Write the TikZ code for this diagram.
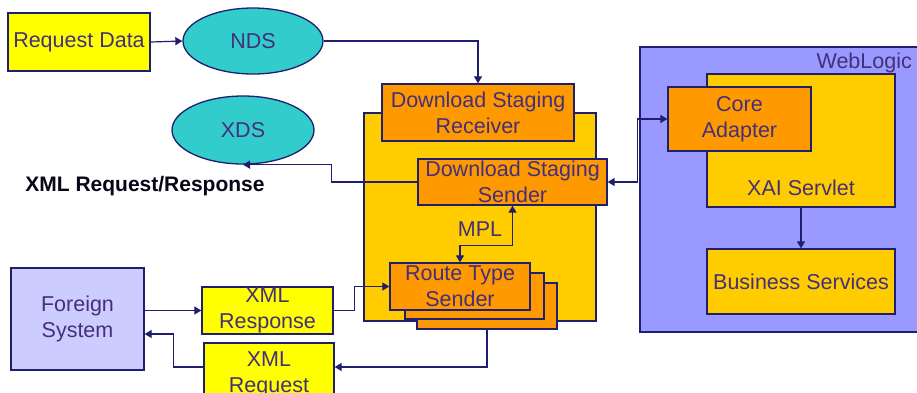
\documentclass[tikz,border=0pt]{standalone}
\usepackage{fontspec}
\setmainfont{Liberation Sans}
\usetikzlibrary{arrows.meta,shapes.geometric}
\definecolor{navy}{HTML}{1F1F6E}
\definecolor{txt}{HTML}{44307A}
\definecolor{yel}{HTML}{FFFF00}
\definecolor{gold}{HTML}{FFCC00}
\definecolor{orng}{HTML}{FF9900}
\definecolor{teal}{HTML}{33CCCC}
\definecolor{lav}{HTML}{CCCCFF}
\definecolor{blu}{HTML}{9999FF}
\tikzset{
  box/.style={draw=navy, line width=1.3pt, rectangle, inner sep=0pt, align=center, text=txt,
    font=\fontsize{21.5}{26}\selectfont},
  oval/.style={draw=navy, line width=1.3pt, ellipse, fill=teal, inner sep=0pt, text=txt,
    font=\fontsize{21.5}{26}\selectfont},
  conn/.style={draw=navy, line width=1.2pt, -{Triangle[length=7pt,width=8pt]}},
  conn2/.style={draw=navy, line width=1.2pt, {Triangle[length=7pt,width=8pt]}-{Triangle[length=7pt,width=8pt]}},
  lbl/.style={text=txt, font=\fontsize{21.5}{26}\selectfont, inner sep=0pt},
}
\begin{document}
\begin{tikzpicture}[x=1pt,y=-1pt]
\useasboundingbox (0,0) rectangle (917,392);
\clip (0,0) rectangle (917,392);
\fill[white] (0,0) rectangle (917,392);

% left side
\node[box, fill=yel, minimum width=142pt, minimum height=58pt] (req) at (79,42) {Request Data};
\node[oval, minimum width=140pt, minimum height=66pt] (nds) at (253,41) {NDS};
\node[oval, minimum width=142pt, minimum height=68pt] (xds) at (243,130) {XDS};
\node[text=black!80!navy, font=\fontsize{21}{24}\bfseries, inner sep=0pt] (xrr) at (145,186) {XML Request/Response};

% download staging container
\node[box, fill=gold, minimum width=232pt, minimum height=208pt] (dsc) at (480,217) {};
\node[box, fill=orng, minimum width=192pt, minimum height=57pt] (dsr) at (478,112.5) {Download Staging\\Receiver};
\node[box, fill=orng, minimum width=189pt, minimum height=46pt] (dss) at (512.5,182) {Download Staging\\Sender};
\node[lbl] (mpl) at (480,229) {MPL};
\node[box, fill=orng, minimum width=140pt, minimum height=46pt] (rts3) at (487,306) {};
\node[box, fill=orng, minimum width=139pt, minimum height=46pt] (rts2) at (474.5,296) {};
\node[box, fill=orng, minimum width=140pt, minimum height=47pt] (rts1) at (460,286.5) {Route Type\\Sender};

% foreign
\node[box, fill=lav, minimum width=133pt, minimum height=102pt] (fs) at (77.5,319) {Foreign\\System};
\node[box, fill=yel, minimum width=131pt, minimum height=47pt] (xresp) at (267.5,310.5) {XML\\Response};
\node[box, fill=yel, minimum width=130pt, minimum height=62pt] (xreq) at (269,374) {XML\\Request};

% weblogic
\node[box, fill=blu, minimum width=285pt, minimum height=285pt] (wl) at (782.5,189.5) {};
\node[lbl, anchor=north east] (wll) at (912,53) {WebLogic};
\node[box, fill=gold, minimum width=188pt, minimum height=133pt] (xai) at (801,140.5) {};
\node[lbl] (xail) at (801,188) {XAI Servlet};
\node[box, fill=orng, minimum width=143pt, minimum height=64pt] (core) at (739.5,119) {Core\\Adapter};
\node[box, fill=gold, minimum width=188pt, minimum height=65pt] (bus) at (801,281.5) {Business Services};

% connectors
\draw[conn] (req.east) -- (nds.west);
\draw[conn] (nds.east) -| (dsr.north);
\draw[conn] (dss.west) -- ++(-86,0) |- (xds.south);
\draw[conn2] (rts1.north) -- ++(0,-17) -| (dss.south);
\draw[conn] (fs.east |- xresp.west) -- (xresp.west);
\draw[conn] (xresp.east) -- ++(21,0) |- (rts1.west);
\draw[conn] (rts3.south) |- ([yshift=7pt]xreq.east);
\draw[conn] ([yshift=7pt]xreq.west) -- ++(-30,0) |- ([yshift=-15pt]fs.east);
\draw[conn2] (dss.east) -- ++(30,0) |- (core.west);
\draw[conn] (xai.south) -- (bus.north);
\end{tikzpicture}
\end{document}
